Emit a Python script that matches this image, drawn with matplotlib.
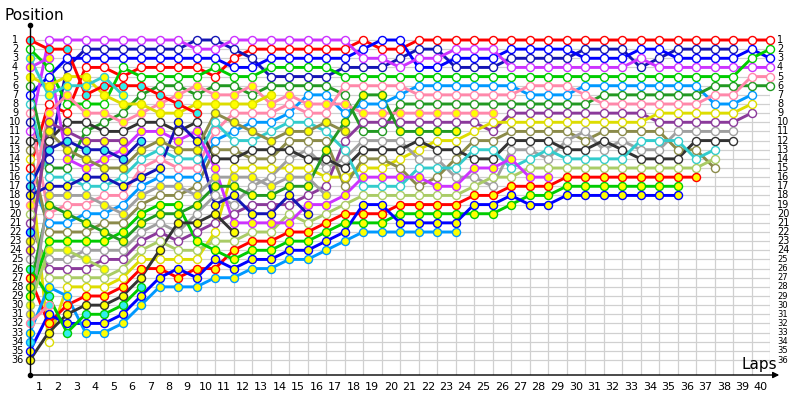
import matplotlib
matplotlib.use('Agg')
import matplotlib.pyplot as plt

# running position of every car, lap 0 (grid) up to its last lap
red_w = [15, 8, 9, 4, 4, 5, 4, 4, 4, 4,
         5, 3, 2, 2, 2, 2, 2, 2, 1, 2,
         2, 1, 1, 1, 1, 1, 1, 1, 1, 1,
         1, 1, 1, 1, 1, 1, 1, 1, 1, 1, 1]
dkblue_w = [10, 14, 4, 2, 2, 2, 2, 2, 2, 1,
            1, 2, 3, 5, 5, 5, 5, 4, 4, 4,
            3, 2, 2, 4, 4, 4, 3, 3, 3, 3,
            2, 2, 2, 4, 3, 2, 2, 2, 2]
blue_w = [7, 5, 3, 3, 3, 3, 3, 3, 3, 3,
          3, 4, 4, 3, 3, 3, 3, 3, 2, 1,
          1, 4, 4, 3, 3, 3, 2, 2, 2, 2,
          3, 3, 3, 2, 2, 3, 3, 3, 3, 2, 3]
violet_w = [11, 1, 1, 1, 1, 1, 1, 1, 1, 2,
            2, 1, 1, 1, 1, 1, 1, 1, 3, 3,
            4, 3, 3, 2, 2, 2, 4, 4, 4, 4,
            4, 4, 4, 3, 4, 4, 4, 4, 4, 4, 4]
green_w = [2, 4, 8, 8, 8, 4, 5, 5, 5, 5,
           4, 5, 5, 4, 4, 4, 4, 5, 5, 5,
           5, 5, 5, 5, 5, 5, 5, 5, 5, 5,
           5, 5, 5, 5, 5, 5, 5, 5, 5, 3, 2]
ltblue_w = [16, 21, 21, 20, 20, 19, 17, 16, 16, 16,
            12, 11, 10, 10, 9, 7, 7, 9, 8, 8,
            7, 6, 6, 6, 6, 6, 6, 7, 7, 7,
            6, 6, 6, 6, 6, 6, 6, 8, 8, 7]
dkgreen_w = [6, 15, 15, 11, 10, 9, 7, 6, 6, 7,
             6, 6, 7, 6, 6, 6, 6, 7, 11, 11,
             8, 8, 8, 8, 8, 8, 8, 8, 8, 8,
             8, 7, 7, 7, 7, 7, 7, 6, 6, 6, 6]
pink_w = [9, 20, 19, 19, 18, 18, 15, 14, 15, 15,
          11, 9, 9, 9, 8, 9, 9, 6, 6, 6,
          6, 7, 7, 7, 7, 7, 7, 6, 6, 6,
          7, 8, 8, 8, 8, 8, 8, 7, 7, 5, 5]
purple_w = [21, 26, 26, 26, 25, 25, 23, 22, 23, 22,
            21, 20, 19, 19, 19, 18, 17, 12, 10, 10,
            10, 10, 10, 10, 10, 11, 9, 9, 9, 9,
            9, 9, 9, 9, 10, 10, 10, 10, 10, 9]
yellow_w = [14, 34, 28, 28, 28, 27, 25, 25, 25, 25,
            22, 15, 15, 15, 15, 15, 16, 16, 15, 15,
            14, 13, 12, 12, 11, 10, 10, 10, 10, 10,
            10, 10, 10, 10, 9, 9, 9, 9, 9, 8]
olive_w = [13, 22, 22, 22, 21, 21, 19, 18, 18, 17,
           13, 13, 14, 14, 12, 12, 12, 17, 14, 14,
           15, 17, 16, 14, 12, 12, 11, 11, 11, 11,
           12, 11, 11, 11, 11, 13, 13, 15]
gray_w = [25, 25, 25, 24, 24, 24, 22, 21, 22, 20,
          18, 19, 17, 16, 14, 13, 15, 14, 12, 12,
          12, 14, 14, 16, 16, 17, 13, 13, 14, 12,
          11, 13, 12, 13, 13, 11, 11, 11, 11]
black_w = [12, 12, 10, 10, 11, 11, 10, 10, 11, 10,
           14, 14, 13, 13, 13, 14, 14, 15, 13, 13,
           13, 12, 13, 13, 14, 14, 12, 12, 12, 13,
           13, 12, 13, 14, 14, 14, 12, 12, 12]
cyan_w = [8, 16, 16, 17, 17, 16, 14, 13, 14, 14,
          10, 12, 12, 11, 10, 10, 11, 13, 17, 17,
          17, 15, 15, 15, 13, 13, 15, 14, 13, 14,
          14, 14, 14, 12, 12, 12, 14, 13]
lgreen_w = [20, 27, 27, 27, 27, 26, 24, 23, 24, 24,
            23, 23, 22, 22, 20, 21, 20, 19, 18, 18,
            18, 18, 18, 18, 17, 16, 16, 15, 15, 15,
            15, 15, 15, 15, 15, 15, 15, 14]
red_y = [27, 32, 30, 29, 29, 28, 26, 26, 27, 26,
         26, 24, 23, 23, 22, 22, 21, 20, 20, 20,
         19, 19, 19, 19, 18, 18, 17, 17, 17, 16,
         16, 16, 16, 16, 16, 16, 16]
green_y = [29, 23, 23, 23, 23, 22, 20, 19, 19, 23,
           24, 25, 24, 24, 23, 23, 22, 21, 21, 21,
           20, 20, 20, 20, 20, 20, 19, 18, 18, 17,
           17, 17, 17, 17, 17, 17]
blue_y = [35, 31, 32, 32, 32, 31, 29, 27, 26, 27,
          25, 26, 25, 25, 24, 24, 23, 22, 19, 19,
          21, 21, 21, 21, 19, 19, 18, 19, 19, 18,
          18, 18, 18, 18, 18, 18]
violet_y = [4, 3, 14, 15, 14, 13, 11, 11, 12, 11,
            15, 21, 21, 21, 21, 19, 19, 18, 16, 16,
            16, 16, 17, 17, 15, 15, 14, 16, 16]
pink_y = [19, 9, 7, 9, 9, 10, 9, 8, 7, 6,
          7, 7, 6, 8, 7, 8, 8, 8, 9, 9,
          9, 9, 9, 9, 9, 9]
ltblue_y = [33, 28, 29, 33, 33, 32, 30, 28, 28, 28,
            27, 27, 26, 26, 25, 25, 24, 23, 22, 22,
            22, 22, 22, 22]
dkgreen_y = [28, 19, 20, 21, 22, 23, 21, 20, 20, 19,
             17, 17, 18, 18, 17, 17, 13, 10, 7, 7,
             11, 11, 11, 11]
dkblue_y = [18, 17, 17, 16, 16, 17, 16, 15, 10, 12, 19, 18, 20, 20, 18, 20]
olive_y = [23, 11, 13, 14, 15, 15, 13, 12, 13, 13, 9, 10, 11, 12, 11, 11, 10, 11]
gray_y = [31, 18, 18, 18, 19, 20, 18, 17, 17, 18, 16, 16, 16, 17, 16, 16, 18]
black_y = [36, 33, 31, 30, 30, 29, 27, 24, 21, 21, 20, 22]
yellow_y = [5, 6, 5, 5, 7, 8, 8, 9, 9, 8, 8, 8, 8, 7]
red_c = [1, 2, 2, 7, 6, 6, 6, 7, 8, 9]
dkblue_c = [17, 13, 12, 13, 13, 14, 12]
green_c = [26, 29, 33, 31, 31, 30, 28]
purple_y = [24, 10, 11, 12, 12, 12]
cyan_y = [3, 7, 6, 6, 5, 7]
lgreen_y = [30, 24, 24, 25, 26]
pink_c = [32, 30]
blue_c = [22]
ltblue_c = [34]

N_POS = 36
N_LAPS = 40

# line colour and marker fill for every car
cars = [
    (red_w, '#ff0000', 'white'), (dkblue_w, '#1414b4', 'white'),
    (blue_w, '#0000ff', 'white'), (violet_w, '#cc33ff', 'white'),
    (green_w, '#00cc00', 'white'), (ltblue_w, '#0099ff', 'white'),
    (dkgreen_w, '#229922', 'white'), (pink_w, '#ff88aa', 'white'),
    (purple_w, '#8b3a9b', 'white'), (yellow_w, '#dddd00', 'white'),
    (olive_w, '#8b8b4a', 'white'), (gray_w, '#a0a0a0', 'white'),
    (black_w, '#333333', 'white'), (cyan_w, '#33cccc', 'white'),
    (lgreen_w, '#aacc66', 'white'), (red_y, '#ff0000', '#ffff00'),
    (green_y, '#00cc00', '#ffff00'), (blue_y, '#0000ff', '#ffff00'),
    (violet_y, '#cc33ff', '#ffff00'), (pink_y, '#ff88aa', '#ffff00'),
    (ltblue_y, '#0099ff', '#ffff00'), (dkgreen_y, '#229922', '#ffff00'),
    (dkblue_y, '#1414b4', '#ffff00'), (olive_y, '#8b8b4a', '#ffff00'),
    (gray_y, '#a0a0a0', '#ffff00'), (black_y, '#333333', '#ffff00'),
    (yellow_y, '#dddd00', '#ffff00'), (red_c, '#ff0000', '#33eeee'),
    (dkblue_c, '#1414b4', '#33eeee'), (green_c, '#00cc00', '#33eeee'),
    (purple_y, '#8b3a9b', '#ffff00'), (cyan_y, '#33cccc', '#ffff00'),
    (lgreen_y, '#aacc66', '#ffff00'), (pink_c, '#ff88aa', '#33eeee'),
    (blue_c, '#0000ff', '#33eeee'), (ltblue_c, '#0099ff', '#33eeee'),
]

fig = plt.figure(figsize=(8, 4), dpi=100)
ax = fig.add_axes([30 / 800, 25 / 400, 740 / 800, 350 / 400])
y_bottom = 37.64
y_top = -0.64
ax.set_xlim(0, N_LAPS)
ax.set_ylim(y_bottom, y_top)
ax.axis('off')

grid_col = '#d0d0d0'
for p in range(1, N_POS + 1):
    ax.plot([0, N_LAPS], [p, p], color=grid_col, lw=0.9, zorder=1)
# vertical grid only below the last running car of each lap
for lap in range(1, N_LAPS + 1):
    running = [s[lap] for s, c, f in cars if len(s) > lap]
    ax.plot([lap, lap], [y_bottom, max(running)], color=grid_col, lw=0.9, zorder=1)

for s, c, f in cars:
    ax.plot(range(len(s)), s, color=c, lw=2.1, solid_capstyle='round',
            zorder=2, clip_on=False)
for s, c, f in cars:
    ax.plot(range(len(s)), s, ls='none', marker='o', ms=5.8, mfc=f, mec=c,
            mew=1.0, zorder=3, clip_on=False)

# axes with arrow and dots
ax.plot([0, 0], [y_bottom, y_top], color='black', lw=1, zorder=4, clip_on=False)
ax.plot([0, 0], [y_bottom, y_top], ls='none', marker='o', ms=3, color='black',
        zorder=4, clip_on=False)
ax.annotate('', xy=(40.5, y_bottom), xytext=(0, y_bottom),
            arrowprops=dict(arrowstyle='-|>', color='black', lw=1,
                            mutation_scale=9, shrinkA=0, shrinkB=0),
            annotation_clip=False)

for p in range(1, N_POS + 1):
    lx = -0.81 if p < 25 else -0.68
    ax.text(lx, p, str(p), ha='center', va='center', fontsize=7, clip_on=False)
    ax.text(40.38, p, str(p), ha='left', va='center',
            fontsize=7 if p < 25 else 6, clip_on=False)
for lap in range(1, N_LAPS + 1):
    ax.text(lap - 0.5, 38.95, str(lap), ha='center', va='center', fontsize=8,
            clip_on=False)

fig.text(4 / 800, 1 - 15 / 400, 'Position', ha='left', va='center', fontsize=11)
fig.text(759 / 800, 1 - 364 / 400, 'Laps', ha='center', va='center', fontsize=11)

fig.savefig('out.png', dpi=100)
